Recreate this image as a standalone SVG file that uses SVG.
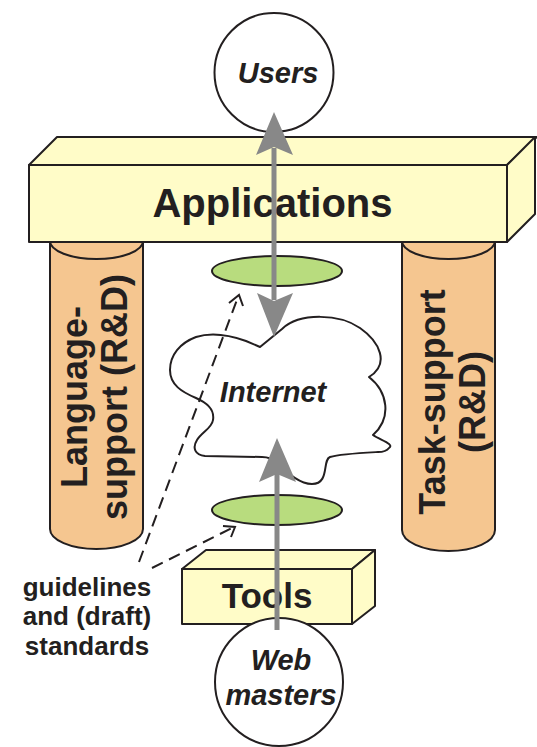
<svg xmlns="http://www.w3.org/2000/svg" width="537" height="747" viewBox="0 0 537 747">
<defs>
<style>
.ol{stroke:#231f20;stroke-width:2;stroke-linejoin:round}
.box{fill:#fffcc8}
.pil{fill:#f5c690}
.disc{fill:#b8dc7e}
.wh{fill:#ffffff}
.t{font-family:"Liberation Sans",Arial,sans-serif;font-weight:bold;fill:#231f20;text-anchor:middle}
.it{font-style:italic}
.gray{stroke:#888888;stroke-width:5;fill:none}
.gh{fill:#888888;stroke:none}
.dash{stroke:#231f20;stroke-width:2;fill:none;stroke-dasharray:12 7}
.ah{stroke:#231f20;stroke-width:2;fill:none}
</style>
</defs>
<rect width="537" height="747" fill="#ffffff"/>

<g id="language-support">
<path class="ol pil" d="M50,241 L50,529 A46.5,20 0 0 0 143,529 L143,241 Z"/>
<ellipse class="ol pil" cx="96.5" cy="241" rx="46.5" ry="18"/>
<text class="t" font-size="36" transform="translate(87,397) rotate(-90)">Language-</text>
<text class="t" font-size="36" transform="translate(127,397) rotate(-90)">support (R&amp;D)</text>
</g>

<g id="task-support">
<path class="ol pil" d="M402,241 L402,530 A46.5,21 0 0 0 495,530 L495,241 Z"/>
<ellipse class="ol pil" cx="448.5" cy="241" rx="46.5" ry="18"/>
<text class="t" font-size="36" transform="translate(445,402) rotate(-90)">Task-support</text>
<text class="t" font-size="36" transform="translate(485,402) rotate(-90)">(R&amp;D)</text>
</g>

<g id="users">
<circle class="ol wh" cx="274" cy="72.5" r="59.5"/>
<text class="t it" font-size="29" x="278" y="83">Users</text>
</g>

<g id="applications">
<polygon class="ol box" points="29,165 57,137 537,137 537,137 507,165"/>
<polygon class="ol box" points="507,165 535,137 535,214 507,242"/>
<rect class="ol box" x="29" y="165" width="478" height="77"/>
<text class="t" font-size="40" x="272.5" y="217">Applications</text>
</g>

<g id="standard-top">
<ellipse class="ol disc" cx="277" cy="271" rx="65" ry="15"/>
</g>

<g id="standard-bottom">
<ellipse class="ol disc" cx="277" cy="510" rx="65" ry="15"/>
</g>

<g id="internet">
<path class="ol wh" d="M260,347 L282,329 C300,312 340,314 360,328 C380,342 390,364 369,377 C388,392 392,418 373,435 C380,440 395,444 389,448 C386,452 380,452 378,452 C360,453 340,454 330,457 C322,460 330,484 312,484 C298,484 285,470 277,463 C272,458 268,457 262,457 L205,456 C195,455 192,448 197,440 C202,432 212,428 213,420 C215,408 205,402 196,398 C182,392 170,385 170,370 C170,355 180,343 196,337 C212,332 232,336 246,341 Z"/>
<text class="t it" font-size="29" x="273" y="402">Internet</text>
</g>

<g id="tools">
<polygon class="ol box" points="182,569 206,550 375,550 352,569"/>
<polygon class="ol box" points="352,569 375,550 375,606 352,624"/>
<rect class="ol box" x="182" y="569" width="170" height="55"/>
<text class="t" font-size="35" x="267" y="608">Tools</text>
</g>

<g id="webmasters">
<circle class="ol wh" cx="279" cy="682" r="64"/>
<text class="t it" font-size="29" x="281" y="670">Web</text>
<text class="t it" font-size="29" x="281" y="705">masters</text>
</g>

<g id="guidelines">
<text class="t" font-size="26" x="87" y="596">guidelines</text>
<text class="t" font-size="26" x="87" y="625">and (draft)</text>
<text class="t" font-size="26" x="87" y="655">standards</text>
</g>

<g id="connectors">
<line class="gray" x1="274" y1="148" x2="274" y2="300"/>
<polygon class="gh" points="274,112 293,155 274,147 256,155"/>
<polygon class="gh" points="274,337 257,293 274,301 293,293"/>
<line class="gray" x1="277" y1="474" x2="277" y2="630"/>
<polygon class="gh" points="277,438 296,482 277,474 259,482"/>
<line class="dash" x1="139" y1="562" x2="238" y2="297"/>
<polyline class="ah" points="229,303 239,295 243,306"/>
<line class="dash" x1="152" y1="568" x2="234" y2="527"/>
<polyline class="ah" points="223,526 235,527 231,537"/>
</g>
</svg>
